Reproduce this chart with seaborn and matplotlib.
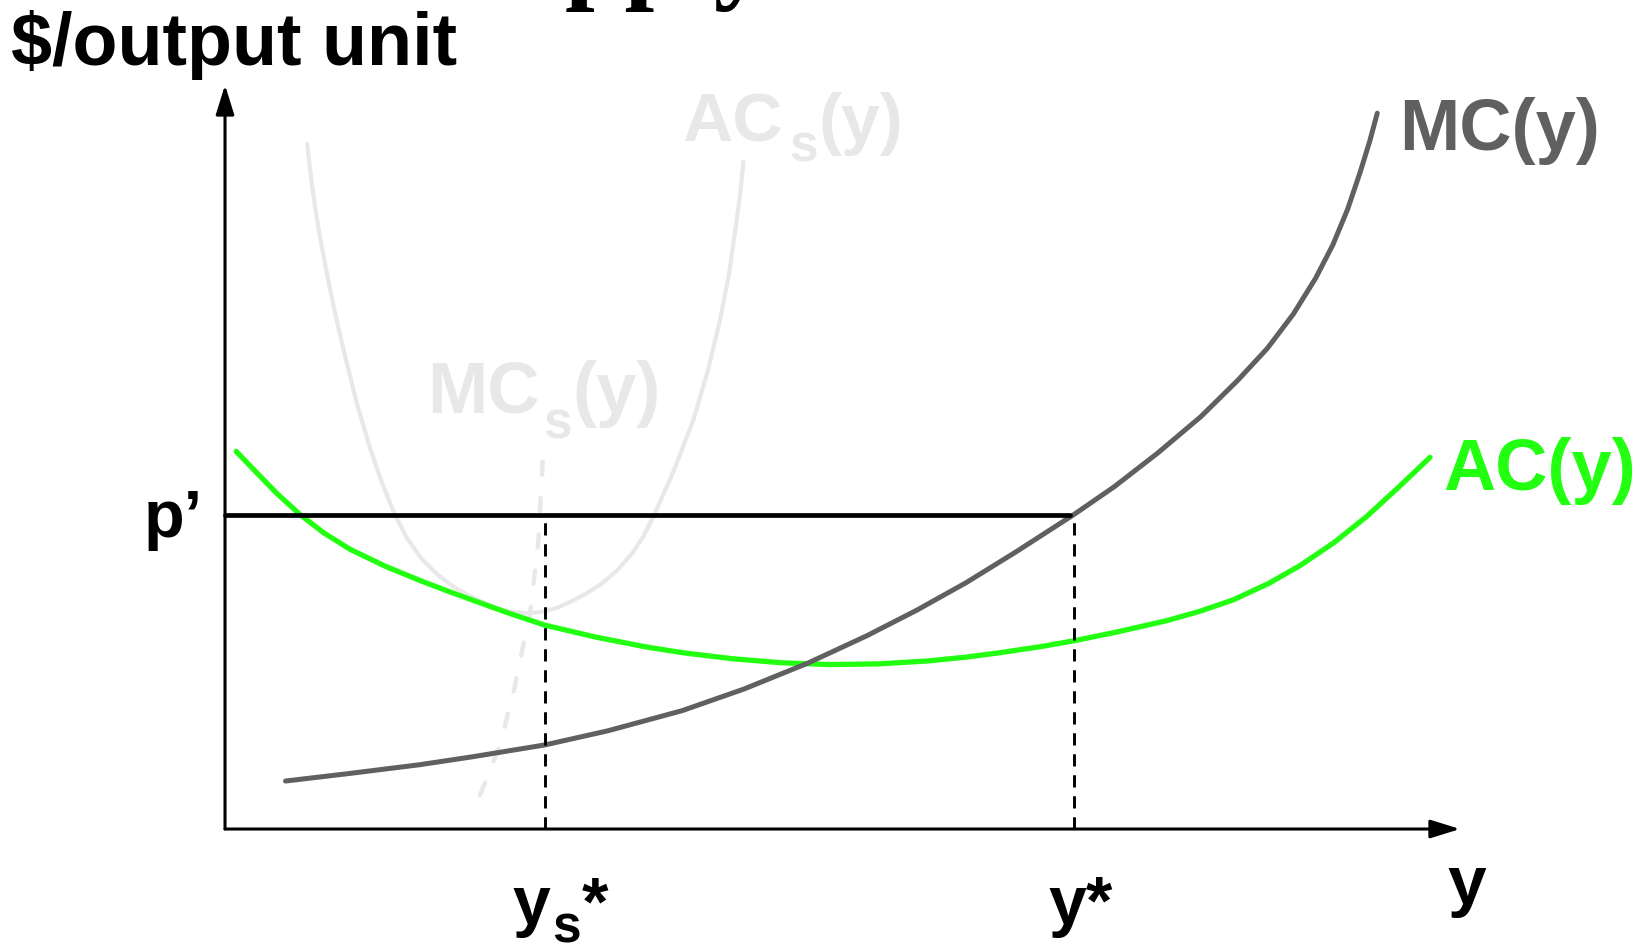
import matplotlib
matplotlib.use('Agg')
import matplotlib.pyplot as plt
import seaborn as sns

# values: origin at the axes corner, arrow tips at 100
mc_x = [4.9, 10, 15.8, 20, 25.9, 31, 37, 42, 47.2, 52, 56, 60, 64, 68.74,
        72, 75.5, 79, 82, 84.4, 86.5, 88.3, 89.7, 90.9, 91.9, 92.7, 93.3]
mc_y = [6.45, 7.45, 8.65, 9.7, 11.3, 13.2, 15.9, 18.8, 22.3, 26.0, 29.4, 33.1, 37.2, 42.27,
        46.0, 50.5, 55.4, 60.3, 64.6, 69.2, 74.0, 78.5, 83.3, 88.2, 92.5, 96.2]

ac_x = [0.91, 2.5, 4.2, 6.07, 8, 10.12, 13, 15.79, 18, 20.65, 23, 25.89, 30, 34, 37.03,
        41, 45, 48.93, 53, 57, 60, 62.75, 66, 68.74, 72, 76.25, 79, 81.64, 84.5, 87.04,
        89.8, 92.44, 95, 97.57]
ac_y = [50.75, 48.0, 45.1, 42.27, 39.8, 37.6, 35.3, 33.4, 32.0, 30.4, 29.0, 27.4, 25.8, 24.5,
        23.7, 22.9, 22.35, 22.1, 22.2, 22.6, 23.1, 23.7, 24.5, 25.3, 26.4, 28.0, 29.3, 30.8,
        33.0, 35.4, 38.5, 42.0, 45.9, 49.95]

acs_x = [6.66, 6.96, 7.29, 7.69, 8.26, 8.91, 9.72, 10.69, 11.74, 12.71, 13.77, 14.74, 15.95,
         17.17, 18.38, 19.6, 20.81, 22.02, 23.24, 24.45, 25.67, 26.88, 28.1, 29.31, 30.53,
         31.74, 32.96, 33.85, 34.68, 36.28, 37.92, 39.11, 40.08, 40.81, 41.43, 41.74, 41.97]
acs_y = [92.07, 87.6, 83.6, 79.6, 74.6, 69.3, 63.58, 57.12, 51.21, 46.51, 42.2, 39.07, 36.25,
         34.25, 32.69, 31.51, 30.52, 29.68, 29.17, 28.99, 29.17, 29.72, 30.65, 31.71, 33.02,
         34.74, 37.02, 39.25, 41.98, 47.92, 54.97, 61.69, 68.41, 74.6, 81.85, 85.75, 89.69]

mcs_x = [20.65, 22.27, 23.4, 24.7, 25.37, 25.77]
mcs_y = [4.57, 11.3, 18.7, 29.0, 38.6, 50.7]

p_prime = 42.27
p_line_end = 68.4
ys_star = 25.91
y_star = 68.74

GRAY = '#606060'
GREEN = '#22ff11'
LIGHT = '#e8e8e8'

sns.set_theme(style='white')
plt.rcParams['font.family'] = ['Liberation Sans', 'DejaVu Sans']
plt.rcParams['font.weight'] = 'bold'
plt.rcParams['text.color'] = 'black'

fig = plt.figure(figsize=(16.46, 9.5), dpi=100)
ax = fig.add_axes([0, 0, 1, 1])
ax.set_xlim(-18.22, 115.06)
ax.set_ylim(-16.26, 111.42)
ax.axis('off')

# short-run curves (faded)
sns.lineplot(x=acs_x, y=acs_y, ax=ax, color=LIGHT, lw=3.0, sort=False, estimator=None,
             solid_capstyle='round', solid_joinstyle='round')
sns.lineplot(x=mcs_x, y=mcs_y, ax=ax, color=LIGHT, lw=3.2, sort=False, estimator=None,
             linestyle=(0, (3.0, 5.2)), dash_capstyle='round')

# long-run curves
sns.lineplot(x=ac_x, y=ac_y, ax=ax, color=GREEN, lw=3.8, sort=False, estimator=None,
             solid_capstyle='round', solid_joinstyle='round')
sns.lineplot(x=mc_x, y=mc_y, ax=ax, color=GRAY, lw=3.6, sort=False, estimator=None,
             solid_capstyle='round', solid_joinstyle='round')

# price line and the two quantities
sns.lineplot(x=[0, p_line_end], y=[p_prime, p_prime], ax=ax, color='black', lw=3.4,
             estimator=None)
for q in [ys_star, y_star]:
    sns.lineplot(x=[q, q], y=[0, p_prime], ax=ax, color='black', lw=2.1,
                 estimator=None, sort=False, linestyle=(0, (4.2, 3.0)))

# axes with arrows
arrow = dict(arrowstyle='-|>,head_length=0.9,head_width=0.28', lw=2.2, color='black',
             mutation_scale=20, shrinkA=0, shrinkB=0)
ax.annotate('', xy=(100, 0), xytext=(0, 0), arrowprops=arrow)
ax.annotate('', xy=(0, 100), xytext=(0, 0), arrowprops=arrow)

# labels
ax.text(17.9, 112.9, 'Supply', fontsize=77, family='Liberation Serif', fontweight='bold',
        va='baseline', clip_on=False)
ax.text(-17.3, 102.69, '$/output unit', fontsize=53, va='baseline')
ax.text(95.06, 91.26, 'MC(y)', fontsize=52, color=GRAY, va='baseline')
ax.text(98.62, 45.56, 'AC(y)', fontsize=52, color=GREEN, va='baseline')
ax.text(-6.6, 39.29, 'p\u2019', fontsize=48, va='baseline')
ax.text(98.95, -10.08, 'y', fontsize=50, va='baseline')

ax.text(37.0, 92.34, 'AC', fontsize=50, color=LIGHT, va='baseline')
ax.text(45.67, 89.65, 's', fontsize=37, color=LIGHT, va='baseline')
ax.text(48.02, 92.34, '(y)', fontsize=50, color=LIGHT, va='baseline')

ax.text(16.4, 55.98, 'MC', fontsize=52, color=LIGHT, va='baseline')
ax.text(25.75, 52.42, 's', fontsize=37, color=LIGHT, va='baseline')
ax.text(28.1, 55.98, '(y)', fontsize=52, color=LIGHT, va='baseline')

ax.text(23.28, -12.77, 'y', fontsize=49, va='baseline')
ax.text(26.46, -15.3, 's', fontsize=37, va='baseline')
ax.text(28.88, -12.77, '*', fontsize=49, va='baseline')
ax.text(66.64, -12.77, 'y*', fontsize=49, va='baseline')

fig.savefig('out.png', dpi=100)
